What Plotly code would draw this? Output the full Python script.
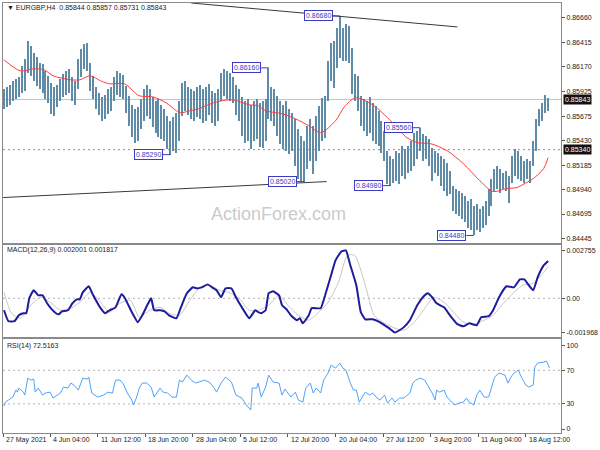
import plotly.graph_objects as go

# ---------------- data ----------------
# bar index (H4 bar number, every 2nd bar shown)
BAR_X = list(range(0, 368, 2))
HIGH = [0.8595,0.8597,0.8599,0.8603,0.8605,0.8607,0.8618,0.8625,0.8643,0.8638,
0.8631,0.8627,0.8621,0.8620,0.8613,0.8608,0.8601,0.8597,0.8599,0.8605,
0.8610,0.8613,0.8615,0.8607,0.8603,0.8625,0.8635,0.8640,0.8641,0.8621,
0.8608,0.8597,0.8591,0.8587,0.8589,0.8595,0.8597,0.8607,0.8613,0.8611,
0.8609,0.8598,0.8588,0.8579,0.8575,0.8577,0.8585,0.8595,0.8599,0.8595,
0.8587,0.8583,0.8585,0.8579,0.8575,0.8568,0.8563,0.8567,0.8571,0.8583,
0.8601,0.8603,0.8597,0.8595,0.8593,0.8597,0.8599,0.8595,0.8597,0.8600,
0.8593,0.8591,0.8595,0.8611,0.8615,0.8613,0.8611,0.8607,0.8599,0.8595,
0.8587,0.8583,0.8585,0.8579,0.8583,0.8585,0.8581,0.8583,0.8585,0.8616,
0.8597,0.8595,0.8588,0.8583,0.8579,0.8583,0.8575,0.8571,0.8565,0.8555,
0.8548,0.8543,0.8558,0.8565,0.8558,0.8568,0.8578,0.8586,0.8588,0.8623,
0.8641,0.8643,0.8656,0.8668,0.8656,0.8660,0.8658,0.8636,0.8610,0.8608,
0.8588,0.8585,0.8583,0.8587,0.8581,0.8578,0.8573,0.8563,0.8553,0.8533,
0.8528,0.8525,0.8533,0.8531,0.8538,0.8535,0.8538,0.8543,0.8551,0.8553,
0.8556,0.8550,0.8548,0.8545,0.8536,0.8533,0.8531,0.8528,0.8525,0.8521,
0.8513,0.8498,0.8495,0.8493,0.8491,0.8488,0.8483,0.8485,0.8478,0.8480,
0.8475,0.8478,0.8483,0.8495,0.8505,0.8515,0.8518,0.8515,0.8511,0.8513,
0.8508,0.8528,0.8535,0.8533,0.8528,0.8523,0.8525,0.8523,0.8543,0.8565,
0.8575,0.8581,0.8589,0.8586]
LOW = [0.8575,0.8577,0.8579,0.8583,0.8585,0.8587,0.8591,0.8593,0.8611,0.8608,
0.8603,0.8598,0.8595,0.8591,0.8585,0.8581,0.8570,0.8568,0.8577,0.8583,
0.8587,0.8589,0.8591,0.8583,0.8579,0.8595,0.8607,0.8615,0.8613,0.8593,
0.8585,0.8575,0.8569,0.8563,0.8565,0.8570,0.8573,0.8583,0.8589,0.8587,
0.8585,0.8571,0.8558,0.8547,0.8541,0.8543,0.8555,0.8563,0.8568,0.8565,
0.8557,0.8551,0.8547,0.8545,0.8543,0.8535,0.8529,0.8533,0.8531,0.8543,
0.8568,0.8573,0.8569,0.8565,0.8563,0.8567,0.8565,0.8561,0.8563,0.8569,
0.8561,0.8558,0.8563,0.8583,0.8588,0.8585,0.8583,0.8581,0.8569,0.8563,
0.8548,0.8541,0.8543,0.8535,0.8543,0.8545,0.8537,0.8536,0.8543,0.8565,
0.8563,0.8558,0.8548,0.8540,0.8535,0.8533,0.8530,0.8533,0.8518,0.8505,
0.8503,0.8502,0.8515,0.8523,0.8510,0.8523,0.8533,0.8543,0.8546,0.8583,
0.8603,0.8596,0.8616,0.8626,0.8623,0.8623,0.8621,0.8590,0.8583,0.8573,
0.8558,0.8553,0.8548,0.8551,0.8543,0.8540,0.8538,0.8531,0.8523,0.8500,
0.8498,0.8501,0.8503,0.8500,0.8508,0.8505,0.8511,0.8513,0.8518,0.8525,
0.8533,0.8523,0.8525,0.8518,0.8503,0.8511,0.8508,0.8498,0.8493,0.8488,
0.8490,0.8473,0.8470,0.8468,0.8465,0.8461,0.8455,0.8453,0.8448,0.8453,
0.8451,0.8455,0.8458,0.8468,0.8478,0.8493,0.8495,0.8491,0.8495,0.8493,
0.8481,0.8501,0.8508,0.8505,0.8503,0.8501,0.8505,0.8501,0.8518,0.8533,
0.8558,0.8563,0.8571,0.8573]

MA_X = [0,11,20,27,33,38,45,51,58,65,71,81,91,100,109,116,119,125,131,141,153,165,171,176,187,196,205,213,223,229,236,240,249,258,265,271,278,287,298,309,320,329,338,345,349,356,363,366]
MA_Y = [0.8624,0.8613,0.8615,0.8614,0.8608,0.8606,0.8604,0.8604,0.8608,0.8603,0.8600,0.8600,0.8588,0.8587,0.8581,0.8573,0.8571,0.8573,0.8575,0.8581,0.8584,0.8579,0.8578,0.8573,0.8570,0.8565,0.8558,0.8551,0.8563,0.8577,0.8586,0.8585,0.8578,0.8566,0.8555,0.8546,0.8541,0.8540,0.8533,0.8520,0.8503,0.8492,0.8495,0.8496,0.8499,0.8505,0.8515,0.8526]

MACD_X = [0,3,7,10,13,15,17,20,23,26,29,31,35,37,39,43,46,49,51,53,57,60,65,68,71,75,79,81,86,90,93,97,99,101,105,108,111,116,119,123,127,130,133,137,140,143,146,149,153,156,160,165,169,171,173,176,178,181,185,187,190,193,197,199,201,205,207,213,216,220,223,227,230,233,237,240,243,248,253,256,259,263,266,269,273,278,283,285,288,291,296,300,305,309,313,318,321,326,329,333,338,343,347,350,353,356,359,363,366]
MACD_Y = [-0.00069,-0.00132,-0.00132,-0.00098,-0.00086,-0.00086,0.0,0.00046,0.00017,0.00017,-0.00029,-0.00052,-0.00086,-0.00092,-0.00075,-0.00069,-0.00029,-0.00006,-0.00006,0.00034,0.00069,0.00017,-0.00057,-0.00086,-0.00069,-0.00052,0.00023,0.00006,-0.00080,-0.00138,-0.00098,-0.00029,0.0,-0.00069,-0.00069,-0.00075,-0.00098,-0.00115,-0.00052,0.00029,0.00063,0.00057,0.00063,0.00080,0.00063,0.00046,0.00006,0.00057,0.00057,0.00006,-0.00052,-0.00115,-0.00069,-0.00080,-0.00086,-0.00069,0.00029,0.00040,0.00017,-0.00040,-0.00063,-0.00098,-0.00126,-0.00115,-0.00144,-0.00098,-0.00057,-0.00057,0.00017,0.00132,0.00218,0.00270,0.00275,0.00189,0.00075,-0.00080,-0.00121,-0.00121,-0.00138,-0.00155,-0.00172,-0.00197,-0.00184,-0.00166,-0.00126,-0.00040,0.00017,0.00029,0.00006,-0.00029,-0.00052,-0.00098,-0.00149,-0.00161,-0.00144,-0.00155,-0.00109,-0.00103,-0.00069,0.00006,0.00069,0.00063,0.00109,0.00109,0.00075,0.00046,0.00121,0.00189,0.00215]

SIG_X = [0,5,11,18,25,31,38,45,51,58,65,71,78,85,91,98,105,111,118,125,131,138,145,151,158,165,171,178,185,191,198,205,211,218,225,231,236,243,249,256,263,269,276,283,289,296,303,309,316,323,329,336,343,349,356,363,366]
SIG_Y = [0.00034,-0.00086,-0.00115,-0.00040,0.00006,-0.00023,-0.00069,-0.00057,-0.00023,0.00034,-0.00023,-0.00080,-0.00029,-0.00011,-0.00109,-0.00069,-0.00052,-0.00086,-0.00098,-0.00011,0.00057,0.00075,0.00046,0.00034,0.0,-0.00069,-0.00069,-0.00040,0.00017,-0.00040,-0.00098,-0.00126,-0.00086,-0.00023,0.00092,0.00247,0.00247,0.00075,-0.00098,-0.00144,-0.00172,-0.00184,-0.00138,-0.00057,0.00006,-0.00023,-0.00086,-0.00138,-0.00149,-0.00126,-0.00098,-0.00029,0.00034,0.00075,0.00086,0.00149,0.00182]

RSI_X = [0,1,3,6,8,9,10,13,14,16,18,20,21,23,26,28,31,33,36,38,40,43,45,47,50,53,56,57,59,61,63,67,70,73,75,78,80,83,86,87,89,91,93,96,99,101,105,107,110,113,116,118,120,123,126,129,131,135,138,141,143,146,149,153,156,160,163,166,167,170,171,173,176,178,181,185,187,189,193,196,198,201,203,206,208,210,213,215,218,220,223,226,228,230,233,235,237,239,241,243,246,248,251,253,256,258,261,263,266,269,273,275,277,280,283,286,288,290,291,293,296,298,300,303,306,309,311,313,316,318,320,323,326,328,330,333,337,339,341,343,346,348,351,353,356,357,359,363,365,367]
RSI_Y = [27.4,32.1,34.5,38.1,46.4,44.0,48.8,44.0,40.5,60.7,58.3,59.5,44.0,48.8,40.5,42.9,44.0,36.9,40.5,42.9,50.0,48.8,54.8,52.4,46.4,60.7,59.5,61.9,42.9,40.5,38.1,40.5,44.0,42.9,58.3,58.3,54.8,42.9,34.5,28.6,36.9,48.8,54.8,54.8,50.0,38.1,48.8,44.0,42.9,38.1,38.1,58.3,56.0,64.3,58.3,54.8,56.0,58.3,56.0,50.0,44.0,54.8,61.9,56.0,40.5,36.9,28.6,22.6,48.8,48.8,54.8,38.1,50.0,64.3,56.0,54.8,40.5,47.6,38.1,44.0,34.5,32.1,48.8,54.8,42.9,48.8,42.9,58.3,66.7,76.2,72.6,78.6,72.6,70.2,54.8,46.4,46.4,32.1,38.1,44.0,40.5,42.9,36.9,34.5,40.5,31.0,36.9,32.1,36.9,36.9,42.9,54.8,58.3,60.7,58.3,50.0,42.9,34.5,46.4,44.0,46.4,38.1,34.5,28.6,31.0,32.1,36.9,32.1,28.6,40.5,46.4,38.1,38.1,50.0,61.9,66.7,64.3,54.8,61.9,66.7,70.2,61.9,52.4,50.0,52.4,73.8,78.6,79.8,81.0,72.5]

# trend lines: (bar index, price) endpoints
TREND_UP_X = [126, 305]
TREND_UP_Y = [0.8681, 0.8657]
TREND_LO_X = [-0.6, 217]
TREND_LO_Y = [0.8486, 0.8502]

# marked swing levels: value, bar index of the swing
SWING_VALUES = [0.86160, 0.86680, 0.85290, 0.85020, 0.84980, 0.85560, 0.84480]
SWING_BARS = [178, 226, 112, 202, 260, 280, 316]

LAST_PRICE = 0.85843
LEVEL_LINE = 0.85340

PRICE_TICKS = [0.86660, 0.86415, 0.86170, 0.85925, 0.85675, 0.85430, 0.85185, 0.84940, 0.84695, 0.84445]
MACD_TICKS = [0.002755, 0.0, -0.001968]
MACD_TICK_TEXT = ["0.002755", "0.00", "-0.001968"]
RSI_TICKS = [100, 70, 30, 0]
RSI_LEVELS = [70, 30]

TIME_TICK_POS = [-0.5, 31, 63, 95, 127, 159, 191, 223, 255, 287, 319, 351]
TIME_TICK_LABELS = ["27 May 2021", "4 Jun 04:00", "11 Jun 12:00", "18 Jun 20:00", "28 Jun 04:00",
                    "5 Jul 12:00", "12 Jul 20:00", "20 Jul 04:00", "27 Jul 12:00", "3 Aug 20:00",
                    "11 Aug 04:00", "18 Aug 12:00"]

HEADER = "\u25BC EURGBP,H4  0.85844 0.85857 0.85731 0.85843"
MACD_TITLE = "MACD(12,26,9) 0.002001 0.001817"
RSI_TITLE = "RSI(14) 72.5163"

# ---------------- figure ----------------
FONT = "Liberation Sans, Arial, sans-serif"
W, H = 600, 450
ML, MR, MT, MB = 2, 35, 2, 17
PW = W - ML - MR
PH = H - MT - MB


def py(pix):
    """pixel row -> paper y"""
    return (H - MB - pix) / PH


def px(pix):
    return (pix - ML) / PW


BAR_COLOR = "#5f8ba6"
LABEL_COLOR = "#3b3bc4"
AX_LINE = "#8a8a8a"

fig = go.Figure()

fig.add_trace(go.Bar(x=BAR_X, base=LOW, y=[h - l for h, l in zip(HIGH, LOW)],
                     width=0.85, marker=dict(color=BAR_COLOR, line=dict(width=0)),
                     xaxis="x", yaxis="y"))
fig.add_trace(go.Scatter(x=MA_X, y=MA_Y, mode="lines",
                         line=dict(color="#ff3b3b", width=1, shape="spline", smoothing=0.8),
                         xaxis="x", yaxis="y"))
fig.add_trace(go.Scatter(x=TREND_UP_X, y=TREND_UP_Y, mode="lines",
                         line=dict(color="#3a3a3a", width=1), xaxis="x", yaxis="y"))
fig.add_trace(go.Scatter(x=TREND_LO_X, y=TREND_LO_Y, mode="lines",
                         line=dict(color="#3a3a3a", width=1), xaxis="x", yaxis="y"))

fig.add_trace(go.Scatter(x=SIG_X, y=SIG_Y, mode="lines",
                         line=dict(color="#c6c6c6", width=1, shape="spline", smoothing=0.6),
                         xaxis="x2", yaxis="y2"))
fig.add_trace(go.Scatter(x=MACD_X, y=MACD_Y, mode="lines",
                         line=dict(color="#1c1c9c", width=2, shape="spline", smoothing=0.4),
                         xaxis="x2", yaxis="y2"))

fig.add_trace(go.Scatter(x=RSI_X, y=RSI_Y, mode="lines",
                         line=dict(color="#4ea2f7", width=1),
                         xaxis="x3", yaxis="y3"))

shapes = []
# last price line and level line
shapes.append(dict(type="line", xref="x domain", yref="y", x0=0, x1=1, y0=LAST_PRICE, y1=LAST_PRICE,
                   line=dict(color="#c4c4c4", width=1), layer="below"))
shapes.append(dict(type="line", xref="x domain", yref="y", x0=0, x1=1, y0=LEVEL_LINE, y1=LEVEL_LINE,
                   line=dict(color="#8c8c8c", width=1, dash="2px,3px"), layer="below"))
shapes.append(dict(type="line", xref="x2 domain", yref="y2", x0=0, x1=1, y0=0, y1=0,
                   line=dict(color="#b4b4b4", width=1, dash="2px,3px"), layer="below"))
for lv in RSI_LEVELS:
    shapes.append(dict(type="line", xref="x3 domain", yref="y3", x0=0, x1=1, y0=lv, y1=lv,
                       line=dict(color="#b4b4b4", width=1, dash="2px,3px"), layer="below"))

annotations = []
GAP = 5
for val, b in zip(SWING_VALUES, SWING_BARS):
    shapes.append(dict(type="line", xref="x", yref="y", x0=b - GAP, x1=b, y0=val, y1=val,
                       line=dict(color=LABEL_COLOR, width=1)))
    annotations.append(dict(x=b - GAP, y=val, xref="x", yref="y", xanchor="right", yanchor="middle",
                            text=f"{val:.5f}", showarrow=False,
                            font=dict(family=FONT, size=7, color=LABEL_COLOR),
                            bgcolor="white", bordercolor=LABEL_COLOR, borderwidth=1, borderpad=1))

# right-side price boxes
for val in [LAST_PRICE, LEVEL_LINE]:
    annotations.append(dict(x=1, y=val, xref="paper", yref="y", xanchor="left", yanchor="middle",
                            xshift=2, text=f"{val:.5f}", showarrow=False,
                            font=dict(family=FONT, size=7, color="white"),
                            bgcolor="#111111", borderpad=1))

# titles
annotations.append(dict(x=px(4), y=py(7), xref="paper", yref="paper", xanchor="left", yanchor="middle",
                        text=HEADER, showarrow=False, font=dict(family=FONT, size=7, color="#1a1a1a")))
annotations.append(dict(x=px(4), y=py(250), xref="paper", yref="paper", xanchor="left", yanchor="middle",
                        text=MACD_TITLE, showarrow=False, font=dict(family=FONT, size=7, color="#1a1a1a")))
annotations.append(dict(x=px(4), y=py(346), xref="paper", yref="paper", xanchor="left", yanchor="middle",
                        text=RSI_TITLE, showarrow=False, font=dict(family=FONT, size=7, color="#1a1a1a")))
# watermark
annotations.append(dict(x=px(280), y=py(213), xref="paper", yref="paper", xanchor="center", yanchor="middle",
                        text="ActionForex.com", showarrow=False,
                        font=dict(family=FONT, size=18, color="#cbcbcb")))
# time labels
for pos, lab in zip(TIME_TICK_POS, TIME_TICK_LABELS):
    annotations.append(dict(x=pos, y=py(440), xref="x3", yref="paper", xanchor="left", yanchor="middle",
                            xshift=1, text=lab, showarrow=False,
                            font=dict(family=FONT, size=7, color="#1a1a1a")))

XR = [-0.667, 374.67]
common_x = dict(range=XR, showgrid=False, zeroline=False, showline=True, mirror=True,
                linecolor=AX_LINE, linewidth=1, showticklabels=False, fixedrange=True)
common_y = dict(side="right", showgrid=False, zeroline=False, showline=True, mirror=True,
                linecolor=AX_LINE, linewidth=1, ticks="outside", ticklen=3, tickcolor="#555555",
                tickfont=dict(family=FONT, size=7, color="#1a1a1a"), fixedrange=True)

fig.update_layout(
    width=W, height=H,
    margin=dict(l=ML, r=MR, t=MT, b=MB),
    paper_bgcolor="white", plot_bgcolor="white",
    showlegend=False, hovermode=False, bargap=0,
    xaxis=dict(common_x, anchor="y", domain=[0, 1], ticks=""),
    xaxis2=dict(common_x, anchor="y2", domain=[0, 1], matches="x", ticks=""),
    xaxis3=dict(common_x, anchor="y3", domain=[0, 1], matches="x", ticks="outside", ticklen=3,
                tickcolor="#555555", tickvals=TIME_TICK_POS),
    yaxis=dict(common_y, anchor="x", domain=[py(243), 1.0], range=[0.8440, 0.8681],
               tickvals=PRICE_TICKS, ticktext=[f"{v:.5f}" for v in PRICE_TICKS]),
    yaxis2=dict(common_y, anchor="x2", domain=[py(337), py(245)], range=[-0.00224, 0.00304],
                tickvals=MACD_TICKS, ticktext=MACD_TICK_TEXT),
    yaxis3=dict(common_y, anchor="x3", domain=[0.0, py(339)], range=[-4.76, 107.1],
                tickvals=RSI_TICKS, ticktext=[str(v) for v in RSI_TICKS]),
    shapes=shapes,
    annotations=annotations,
)

fig.write_html("out.html", config={"displayModeBar": False},
               post_script="document.body.style.margin='0';document.body.style.padding='0';"
                           "document.body.style.overflow='hidden';")
